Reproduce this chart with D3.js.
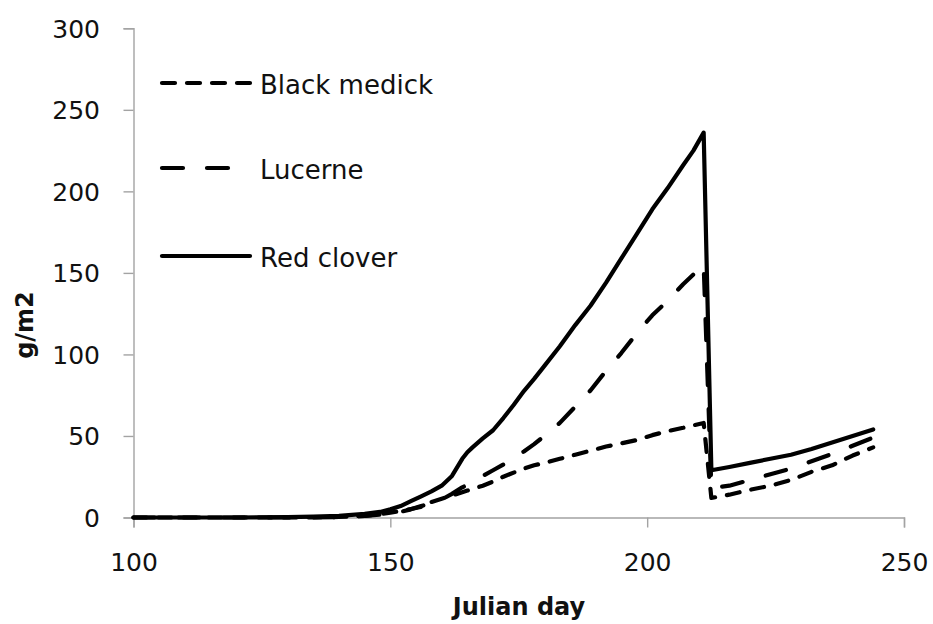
<!DOCTYPE html>
<html>
<head>
<meta charset="utf-8">
<script src="https://cdn.jsdelivr.net/npm/d3@7"></script>
<style>
  html, body { margin: 0; padding: 0; background: #fff; }
  svg { display: block; }
  text { font-family: "DejaVu Sans", sans-serif; fill: #111; }
</style>
</head>
<body>
<svg id="chart" width="933" height="624"></svg>
<script>
// Julian days sampled for all three crops
const days = [100, 110, 120, 130, 135, 140, 145, 148, 150, 152, 154, 156, 158, 160, 162, 164, 165, 166, 168, 170,
  172, 174, 176, 178, 180, 183, 186, 189, 192, 195, 198, 201, 204, 207, 209, 211, 212.5, 216, 220, 224,
  228, 232, 236, 240, 244];

// Dry matter, g/m2
const blackMedick = [0, 0, 0, 0, 0.1, 0.3, 1, 2, 3, 4, 5.2, 6.5, 9.5, 11.5, 13.5, 15.5, 16.5, 17.5, 19.5, 22,
  25, 27.5, 30, 32, 33.5, 36, 38.5, 41, 43.5, 45.5, 47.5, 50.5, 53, 55, 56.5, 58, 12, 14, 17, 19.5,
  23, 28, 32, 38, 43];
const lucerne = [0, 0, 0, 0, 0.1, 0.3, 1, 1.8, 2.5, 3.5, 5, 7, 9, 11, 14.5, 18.5, 20, 22, 25.5, 29,
  32.5, 36.5, 40.5, 45, 50, 58, 68, 78, 90, 101, 113, 124, 133, 143, 149, 155, 18, 19.5, 23, 26.5,
  30, 34.5, 39, 44, 49];
const redClover = [0, 0, 0, 0.2, 0.5, 1, 2.2, 3.4, 5, 7, 10, 13, 16, 19.5, 25.5, 36, 40, 43, 48.5, 53.5,
  61, 69, 77.5, 85, 93, 105, 118, 130, 144, 159, 174, 189, 202, 216, 225, 236, 29, 31, 33.5, 36,
  38.5, 42, 46, 50, 54];

const seriesNames = ["Black medick", "Lucerne", "Red clover"];
const xTicks = [100, 150, 200, 250];
const yTicks = [0, 50, 100, 150, 200, 250, 300];

const series = [
  { name: seriesNames[0], values: blackMedick, dash: "13,12" },
  { name: seriesNames[1], values: lucerne, dash: "21,24" },
  { name: seriesNames[2], values: redClover, dash: null }
];

const svg = d3.select("#chart");
const axisColor = "#a3a3a3";

const x = d3.scaleLinear().domain([100, 250]).range([133.5, 904]);
const y = d3.scaleLinear().domain([0, 300]).range([517.5, 28.3]);

// X axis
const xAxis = svg.append("g")
  .attr("transform", `translate(0,${y(0)})`)
  .call(d3.axisBottom(x).tickValues(xTicks).tickSize(10).tickPadding(0).tickFormat(d3.format("d")));
xAxis.select(".domain").attr("stroke", axisColor).attr("stroke-width", 1.4);
xAxis.selectAll(".tick line").attr("stroke", axisColor).attr("stroke-width", 1.4);
xAxis.selectAll(".tick text")
  .attr("font-size", 25).attr("font-family", "DejaVu Sans, sans-serif")
  .attr("fill", "#111").attr("dy", null).attr("y", 571 - y(0));

// Y axis
const yAxis = svg.append("g")
  .attr("transform", `translate(${x(100)},0)`)
  .call(d3.axisLeft(y).tickValues(yTicks).tickSize(10).tickFormat(d3.format("d")));
yAxis.select(".domain").attr("stroke", axisColor).attr("stroke-width", 1.4);
yAxis.selectAll(".tick line").attr("stroke", axisColor).attr("stroke-width", 1.4);
yAxis.selectAll(".tick text")
  .attr("font-size", 25).attr("font-family", "DejaVu Sans, sans-serif")
  .attr("fill", "#111").attr("x", 100 - x(100)).attr("dy", null).attr("y", 9)
  .attr("text-anchor", "end");

// Axis titles
svg.append("text")
  .attr("x", 519).attr("y", 615)
  .attr("text-anchor", "middle")
  .attr("font-size", 24).attr("font-weight", "bold")
  .text("Julian day");

svg.append("text")
  .attr("transform", "translate(33,325) rotate(-90)")
  .attr("text-anchor", "middle")
  .attr("font-size", 24).attr("font-weight", "bold")
  .text("g/m2");

// Series lines
const line = d3.line()
  .x((d, i) => x(days[i]))
  .y(d => y(d));

svg.append("g").selectAll("path")
  .data(series)
  .join("path")
  .attr("d", d => line(d.values))
  .attr("fill", "none")
  .attr("stroke", "#000")
  .attr("stroke-width", 4.2)
  .attr("stroke-linejoin", "round")
  .attr("stroke-linecap", "round")
  .attr("stroke-dasharray", d => d.dash);

// Legend
const legendY = [83, 168, 256];
const legend = svg.append("g").selectAll("g")
  .data(series)
  .join("g")
  .attr("transform", (d, i) => `translate(0,${legendY[i]})`);

legend.append("line")
  .attr("x1", 162).attr("x2", 250)
  .attr("y1", 0).attr("y2", 0)
  .attr("stroke", "#000")
  .attr("stroke-width", 4.2)
  .attr("stroke-linecap", "round")
  .attr("stroke-dasharray", d => d.dash);

legend.append("text")
  .attr("x", 260).attr("y", 10.5)
  .attr("font-size", 26)
  .text(d => d.name);
</script>
</body>
</html>
